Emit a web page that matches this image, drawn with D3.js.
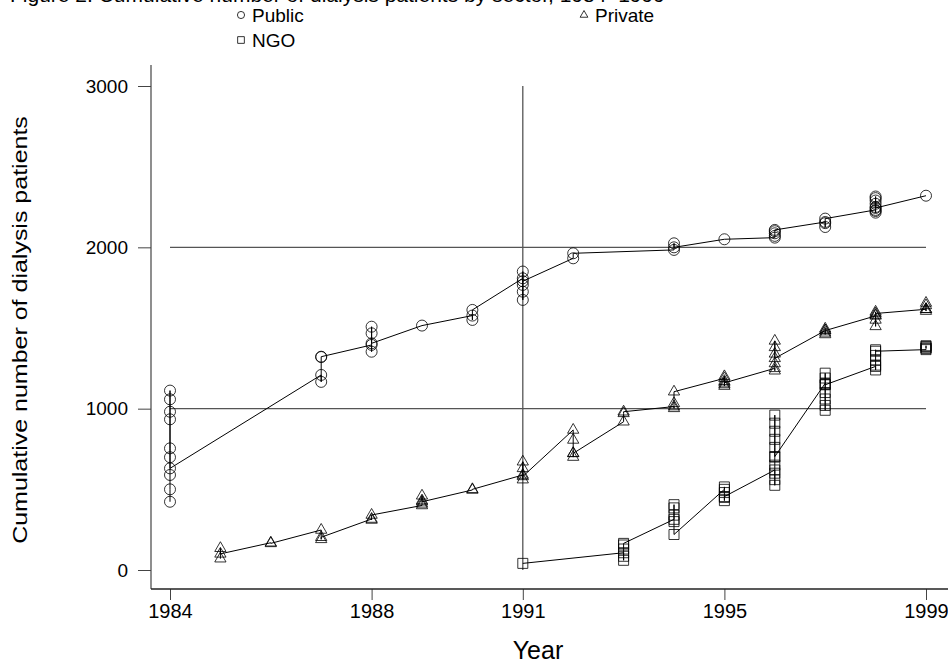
<!DOCTYPE html>
<html>
<head>
<meta charset="utf-8">
<script src="https://cdn.jsdelivr.net/npm/d3@7"></script>
<style>
  html, body { margin: 0; padding: 0; background: #fff; }
  svg { display: block; font-family: "Liberation Sans", Arial, sans-serif; }
</style>
</head>
<body>
<svg id="chart" width="948" height="668"></svg>
<script>
// ---- data (year, cumulative patients), in the order the line connects them ----
const publicYears = [1984,1984,1984,1984,1984,1984,1984,1984,1984,1984,
  1987,1987,1987,1987, 1988,1988,1988,1988,1988, 1989, 1990,1990,1990,
  1991,1991,1991,1991,1991,1991, 1992,1992, 1994,1994,1994, 1995,
  1996,1996,1996,1996,1996, 1997,1997,1997,1997,
  1998,1998,1998,1998,1998,1998,1998,1998,1998, 1999];
const publicValues = [423,500,589,1112,1058,981,934,754,699,630,
  1209,1166,1320,1322, 1395,1353,1467,1508,1405, 1515, 1577,1550,1612,
  1808,1674,1725,1767,1850,1790, 1932,1963, 1984,2025,2000, 2050,
  2060,2071,2087,2100,2108, 2157,2126,2150,2178,
  2232,2215,2225,2250,2270,2290,2305,2315,2244, 2320];

const privateYears = [1985,1985,1985, 1986,1986, 1987,1987,1987, 1988,1988,1988,
  1989,1989,1989,1989,1989, 1990,1990, 1991,1991,1991,1991,1991,
  1992,1992,1992,1992,1992, 1993,1993,1993, 1994,1994,1994,1994,
  1995,1995,1995,1995,1995,1995, 1996,1996,1996,1996,1996,1996,1996,
  1997,1997,1997,1997,1997, 1998,1998,1998,1998,1998,1998, 1999,1999,1999,1999,1999];
const privateValues = [70,135,100, 169,165, 248,190,203, 316,310,341,
  400,410,430,460,423, 496,500, 589,560,671,630,580,
  868,806,723,700,723, 919,971,981, 1013,1002,1033,1105,
  1188,1140,1150,1170,1200,1160, 1250,1235,1280,1340,1380,1420,1312,
  1484,1460,1470,1495,1484, 1575,1510,1550,1580,1600,1590, 1616,1605,1640,1655,1616];

const ngoYears = [1991, 1993,1993,1993,1993,1993,1993,
  1994,1994,1994,1994,1994,1994, 1995,1995,1995,1995,1995,1995,
  1996,1996,1996,1996,1996,1996,1996,1996,1996,1996,1996,1996,
  1997,1997,1997,1997,1997,1997,1997,1997,1997,
  1998,1998,1998,1998,1998,1998,1998, 1999,1999,1999,1999,1999];
const ngoValues = [41, 107,60,85,130,155,165,
  314,405,385,340,300,220, 500,515,480,450,430,455,
  620,525,560,600,650,700,760,810,860,910,960,703,
  1157,990,1020,1060,1100,1150,1190,1220,1148,
  1262,1240,1270,1300,1330,1365,1356, 1366,1375,1390,1385,1376];

const xTicks = [1984, 1988, 1991, 1995, 1999];
const yTicks = [0, 1000, 2000, 3000];
const refValues = [1000, 2000];
const refYear = 1991;
const legendLabels = ["Public", "Private", "NGO"];

// ---- layout ----
const svg = d3.select("#chart");
const x = d3.scaleLinear().domain([1984, 1999]).range([170, 926]);
const y = d3.scaleLinear().domain([0, 3000]).range([570, 86]);
const axisX = 151, axisY = 589;
const ink = "#000";

// title (cut off at top edge, as in the original)
svg.append("text").attr("x", 10).attr("y", 2)
  .attr("font-size", 21).attr("fill", ink)
  .text("Figure 2: Cumulative number of dialysis patients by sector, 1984\u20131999");

// reference lines
const refG = svg.append("g").attr("stroke", "#555").attr("stroke-width", 1.3);
refValues.forEach(v => refG.append("line")
  .attr("x1", x(1984)).attr("x2", x(1999)).attr("y1", y(v)).attr("y2", y(v)));
refG.append("line").attr("x1", x(refYear)).attr("x2", x(refYear))
  .attr("y1", y(3000)).attr("y2", y(0));

// axes
const yAxis = svg.append("g").attr("transform", `translate(${axisX},0)`)
  .call(d3.axisLeft(y).tickValues(yTicks).tickSize(13).tickPadding(10).tickFormat(d3.format("d")));
const xAxis = svg.append("g").attr("transform", `translate(0,${axisY})`)
  .call(d3.axisBottom(x).tickValues(xTicks).tickSize(11).tickPadding(4).tickFormat(d3.format("d")));
[yAxis, xAxis].forEach(g => {
  g.select(".domain").remove();
  g.selectAll("line").attr("stroke", "#444");
  g.selectAll("text").attr("fill", ink)
   .attr("font-family", "Liberation Sans, Arial, sans-serif");
});
yAxis.selectAll("text").attr("font-size", 19);
xAxis.selectAll("text").attr("font-size", 20);
svg.append("line").attr("x1", axisX).attr("x2", axisX).attr("y1", 65).attr("y2", axisY)
  .attr("stroke", "#444").attr("stroke-width", 1.2);
svg.append("line").attr("x1", axisX).attr("x2", 948).attr("y1", axisY).attr("y2", axisY)
  .attr("stroke", "#222").attr("stroke-width", 1.5);

// axis titles
svg.append("text").attr("transform", `translate(27,${330}) rotate(-90) scale(1.25,1)`)
  .attr("text-anchor", "middle").attr("font-size", 20).attr("fill", ink)
  .text("Cumulative number of dialysis patients");
svg.append("text").attr("x", 538).attr("y", 659).attr("text-anchor", "middle")
  .attr("font-size", 25).attr("fill", ink).text("Year");

// series
const series = [
  { name: "Public", years: publicYears, values: publicValues, shape: "circle" },
  { name: "Private", years: privateYears, values: privateValues, shape: "triangle" },
  { name: "NGO", years: ngoYears, values: ngoValues, shape: "square" }
];
const symbolFor = {
  circle: d3.symbol().type(d3.symbolCircle).size(95),
  triangle: d3.symbol().type(d3.symbolTriangle).size(55),
  square: d3.symbol().type(d3.symbolSquare).size(100)
};
const line = d3.line().x(d => x(d[0])).y(d => y(d[1]));

series.forEach(s => {
  const pts = s.years.map((yr, i) => [yr, s.values[i]]);
  svg.append("path").datum(pts).attr("d", line)
    .attr("fill", "none").attr("stroke", ink).attr("stroke-width", 1);
  svg.append("g").selectAll("path").data(pts).join("path")
    .attr("transform", d => `translate(${x(d[0])},${y(d[1])})`)
    .attr("d", symbolFor[s.shape])
    .attr("fill", "none").attr("stroke", ink).attr("stroke-width", 0.8);
});

// legend
const legendPos = [
  { x: 241, y: 15 }, { x: 584, y: 15 }, { x: 241, y: 40 }
];
const legendShapes = ["circle", "triangle", "square"];
const legendSym = {
  circle: d3.symbol().type(d3.symbolCircle).size(40),
  triangle: d3.symbol().type(d3.symbolTriangle).size(26),
  square: d3.symbol().type(d3.symbolSquare).size(45)
};
legendLabels.forEach((lab, i) => {
  const p = legendPos[i];
  svg.append("path").attr("transform", `translate(${p.x},${p.y})`)
    .attr("d", legendSym[legendShapes[i]])
    .attr("fill", "none").attr("stroke", ink).attr("stroke-width", 0.8);
  svg.append("text").attr("x", p.x + 11).attr("y", p.y + 7)
    .attr("font-size", 19).attr("fill", ink).text(lab);
});
</script>
</body>
</html>
